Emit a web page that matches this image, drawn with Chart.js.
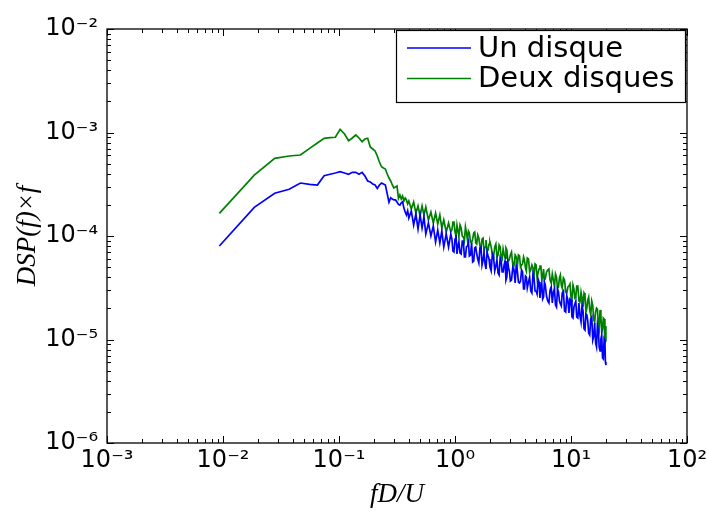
<!DOCTYPE html>
<html>
<head>
<meta charset="utf-8">
<script src="https://cdn.jsdelivr.net/npm/chart.js@4.4.1/dist/chart.umd.min.js"></script>
<style>
html,body{margin:0;padding:0;background:#fff;}
#wrap{width:707px;height:512px;}
</style>
</head>
<body>
<div id="wrap"><canvas id="c" width="707" height="512"></canvas></div>
<script>
// ---- data ----
const seriesNames = ['Un disque', 'Deux disques'];
const freq = [
 0.0093,0.0186,0.0279,0.0372,0.0465,0.0558,0.0651,0.0744,0.0837,0.093,
 0.1023,0.1116,0.1209,0.1302,0.1395,0.1488,0.1581,0.1674,0.1767,0.186,
 0.1953,0.2046,0.2139,0.2232,0.2325,0.2418,0.2511,0.2604,0.2697,0.279,
 0.2883,0.2976,0.3069,0.3162,0.3255,0.3348,0.3441,0.3534,0.3627,0.372,
 0.3813,0.3906,
 0.40,0.42,0.44,0.46,0.48,0.50,0.52,0.54,0.56,0.59,0.62,0.65,0.68,0.71,0.74,0.77,0.80,0.84,0.88,
 0.92,0.94,0.96,0.98,1.0,1.02,1.04,1.06,1.08,1.105,
 1.13,1.155,1.18,1.205,1.23,1.255,1.28,1.305,1.33,1.36,
 1.39,1.42,1.45,1.48,1.51,1.54,1.57,1.605,1.64,1.675,
 1.71,1.745,1.78,1.815,1.85,1.89,1.93,1.965,2.0,2.05,
 2.1,2.15,2.2,2.25,2.3,2.35,2.4,2.45,2.5,2.55,
 2.6,2.65,2.7,2.75,2.8,2.85,2.9,2.95,3.0,3.07,
 3.15,3.22,3.3,3.37,3.45,3.52,3.6,3.67,3.75,3.82,
 3.9,3.97,4.05,4.12,4.2,4.3,4.4,4.5,4.6,4.7,
 4.8,4.9,5.0,5.1,5.2,5.3,5.4,5.5,5.6,5.7,
 5.8,5.9,6.0,6.15,6.3,6.45,6.6,6.75,6.9,7.05,
 7.2,7.35,7.5,7.65,7.8,7.95,8.1,8.25,8.4,8.6,
 8.8,9.0,9.2,9.4,9.6,9.8,10,10.2,10.4,10.6,
 10.8,11.0,11.2,11.45,11.7,11.95,12.2,12.45,12.7,12.95,
 13.2,13.45,13.7,13.95,14.2,14.5,14.8,15.1,15.4,15.7,
 16.0,16.3,16.6,16.9,17.2,17.5,17.8,18.1,18.4,18.7,
 19.0,19.3,19.6,19.8,20.0
];
const unDisque = [
 8.0e-5,1.89e-4,2.59e-4,2.83e-4,3.25e-4,3.15e-4,3.11e-4,3.83e-4,3.95e-4,4.06e-4,
 4.18e-4,4.06e-4,3.95e-4,4.12e-4,4.12e-4,3.95e-4,4.12e-4,3.80e-4,3.40e-4,3.33e-4,
 3.18e-4,3.11e-4,2.88e-4,3.11e-4,3.25e-4,3.18e-4,3.11e-4,2.55e-4,2.12e-4,2.34e-4,
 2.28e-4,2.23e-4,2.23e-4,2.13e-4,2.02e-4,1.99e-4,2.09e-4,2.14e-4,1.86e-4,1.71e-4,
 1.60e-4,1.75e-4,
 1.493e-4,1.744e-4,1.277e-4,1.631e-4,1.169e-4,1.596e-4,1.195e-4,1.527e-4,1.045e-4,1.335e-4,9.995e-5,1.249e-4,8.750e-5,1.143e-4,8.557e-5,1.118e-4,7.829e-5,1.045e-4,7.829e-5,
 1.045e-4,9.350e-5,7.162e-5,7.004e-5,9.350e-5,1.022e-4,6.700e-5,8.005e-5,8.750e-5,6.850e-5,
 6.700e-5,8.947e-5,8.947e-5,6.268e-5,6.268e-5,7.829e-5,8.005e-5,8.750e-5,6.409e-5,6.553e-5,
 8.557e-5,5.609e-5,5.735e-5,7.657e-5,7.829e-5,6.700e-5,5.995e-5,5.485e-5,7.657e-5,7.829e-5,
 5.246e-5,5.864e-5,6.850e-5,5.365e-5,4.800e-5,7.004e-5,6.409e-5,5.995e-5,5.018e-5,4.591e-5,
 6.700e-5,6.268e-5,4.591e-5,5.131e-5,5.864e-5,4.391e-5,4.200e-5,6.130e-5,5.735e-5,4.490e-5,
 4.490e-5,5.246e-5,5.735e-5,3.758e-5,4.017e-5,5.609e-5,4.908e-5,4.490e-5,3.675e-5,3.758e-5,
 5.018e-5,4.800e-5,3.515e-5,5.131e-5,4.591e-5,3.594e-5,3.515e-5,3.675e-5,4.694e-5,4.490e-5,
 3.076e-5,3.076e-5,4.108e-5,4.017e-5,3.145e-5,3.594e-5,4.017e-5,2.942e-5,2.814e-5,4.294e-5,
 3.929e-5,2.942e-5,2.942e-5,2.752e-5,3.843e-5,3.594e-5,2.518e-5,3.216e-5,3.438e-5,2.462e-5,
 2.574e-5,3.594e-5,3.362e-5,2.632e-5,2.355e-5,2.253e-5,3.008e-5,3.216e-5,2.253e-5,2.877e-5,
 3.076e-5,2.154e-5,2.061e-5,3.076e-5,2.877e-5,2.355e-5,2.203e-5,2.107e-5,2.814e-5,2.942e-5,
 1.885e-5,1.844e-5,2.632e-5,2.408e-5,1.803e-5,2.462e-5,2.408e-5,1.650e-5,1.613e-5,2.061e-5,
 2.203e-5,2.355e-5,1.650e-5,1.613e-5,2.253e-5,1.687e-5,1.476e-5,2.154e-5,1.885e-5,1.263e-5,
 1.235e-5,1.764e-5,1.725e-5,1.509e-5,1.155e-5,1.105e-5,1.578e-5,1.650e-5,9.89e-6,1.081e-5,
 1.443e-5,9.25e-6,8.46e-6,1.381e-5,1.235e-5,8.46e-6,7.74e-6,1.011e-5,1.105e-5,6.63e-6,
 6.48e-6,1.011e-5,9.67e-6,6.06e-6,5.67e-6
];
const deuxDisques = [
 1.656e-4,3.88e-4,5.63e-4,5.93e-4,6.06e-4,7.03e-4,7.92e-4,8.79e-4,8.91e-4,8.99e-4,
 1.074e-3,9.68e-4,8.33e-4,8.85e-4,9.46e-4,8.85e-4,8.15e-4,8.65e-4,8.79e-4,7.24e-4,
 6.93e-4,6.63e-4,5.93e-4,5.19e-4,4.67e-4,4.54e-4,4.44e-4,3.97e-4,3.63e-4,3.40e-4,
 3.11e-4,2.91e-4,2.98e-4,3.04e-4,2.31e-4,2.49e-4,2.28e-4,2.43e-4,2.18e-4,2.33e-4,
 2.23e-4,2.04e-4,
 2.178e-4,1.823e-4,2.130e-4,1.668e-4,1.949e-4,1.561e-4,1.949e-4,1.596e-4,1.906e-4,1.427e-4,1.705e-4,1.335e-4,1.668e-4,1.306e-4,1.596e-4,1.195e-4,1.427e-4,1.093e-4,1.335e-4,
 1.093e-4,1.143e-4,1.365e-4,1.365e-4,1.093e-4,9.995e-5,1.277e-4,1.118e-4,9.775e-5,1.277e-4,
 1.195e-4,9.995e-5,9.775e-5,8.947e-5,1.222e-4,1.069e-4,9.148e-5,1.118e-4,1.069e-4,8.750e-5,
 8.557e-5,9.350e-5,1.069e-4,1.093e-4,8.557e-5,8.369e-5,1.022e-4,9.560e-5,8.005e-5,7.488e-5,
 9.350e-5,9.560e-5,7.162e-5,7.829e-5,9.148e-5,7.162e-5,7.323e-5,8.369e-5,8.750e-5,7.829e-5,
 6.700e-5,6.268e-5,7.829e-5,8.369e-5,6.268e-5,6.553e-5,8.185e-5,7.829e-5,6.268e-5,5.995e-5,
 7.488e-5,6.700e-5,6.130e-5,7.657e-5,7.323e-5,5.864e-5,5.735e-5,5.995e-5,6.553e-5,7.004e-5,
 5.246e-5,5.131e-5,6.553e-5,6.268e-5,5.131e-5,6.553e-5,6.409e-5,5.018e-5,5.246e-5,5.365e-5,
 6.268e-5,5.864e-5,4.908e-5,4.591e-5,6.130e-5,5.995e-5,4.490e-5,4.694e-5,5.246e-5,4.908e-5,
 4.200e-5,5.365e-5,5.246e-5,3.929e-5,4.391e-5,4.800e-5,5.131e-5,5.131e-5,3.758e-5,4.017e-5,
 4.800e-5,3.758e-5,3.843e-5,4.490e-5,4.694e-5,4.800e-5,3.758e-5,3.515e-5,4.294e-5,3.758e-5,
 3.216e-5,4.294e-5,4.017e-5,3.145e-5,3.216e-5,3.929e-5,4.200e-5,3.362e-5,3.145e-5,3.929e-5,
 3.758e-5,2.877e-5,2.814e-5,3.216e-5,3.288e-5,3.438e-5,2.574e-5,2.462e-5,3.362e-5,3.076e-5,
 2.518e-5,2.574e-5,3.288e-5,3.288e-5,2.355e-5,2.303e-5,2.877e-5,2.518e-5,2.061e-5,2.814e-5,
 2.692e-5,1.844e-5,2.015e-5,2.408e-5,2.574e-5,1.928e-5,1.725e-5,2.355e-5,2.154e-5,1.543e-5,
 1.476e-5,1.844e-5,2.015e-5,1.971e-5,1.412e-5,1.263e-5,1.928e-5,1.687e-5,1.181e-5,1.263e-5,
 1.613e-5,1.578e-5,9.25e-6,9.67e-6,1.350e-5
];
const seriesColors = ['#0000ff', '#008000'];
const xTickValues = [1e-3, 1e-2, 1e-1, 1e0, 1e1, 1e2];
const xTickLabels = ['10⁻³', '10⁻²', '10⁻¹', '10⁰', '10¹', '10²'];
const yTickValues = [1e-6, 1e-5, 1e-4, 1e-3, 1e-2];
const yTickLabels = ['10⁻⁶', '10⁻⁵', '10⁻⁴', '10⁻³', '10⁻²'];
const xTitle = 'fD/U';
const yTitle = 'DSP(f)×f';

// ---- chart ----
const pts = (ys) => freq.map((f, i) => ({x: f, y: ys[i]}));

const frameTicks = {
  id: 'frameTicks',
  afterDraw(chart) {
    const {ctx, chartArea: a, scales} = chart;
    const xs = scales.x, ys = scales.y;
    ctx.save();
    ctx.strokeStyle = '#000';
    ctx.lineWidth = 1;
    ctx.beginPath();
    const e0x = Math.round(Math.log10(xs.min)), e1x = Math.round(Math.log10(xs.max));
    for (let e = e0x; e <= e1x; e++) {
      for (let m = 1; m <= 9; m++) {
        const v = m * Math.pow(10, e);
        if (v > xs.max * 1.0001) break;
        const p = Math.round(xs.getPixelForValue(v)) + 0.5;
        const len = m === 1 ? 7 : 4;
        ctx.moveTo(p, a.bottom); ctx.lineTo(p, a.bottom - len);
        ctx.moveTo(p, a.top); ctx.lineTo(p, a.top + len);
      }
    }
    const e0y = Math.round(Math.log10(ys.min)), e1y = Math.round(Math.log10(ys.max));
    for (let e = e0y; e <= e1y; e++) {
      for (let m = 1; m <= 9; m++) {
        const v = m * Math.pow(10, e);
        if (v > ys.max * 1.0001) break;
        const p = Math.round(ys.getPixelForValue(v)) + 0.5;
        const len = m === 1 ? 7 : 4;
        ctx.moveTo(a.left, p); ctx.lineTo(a.left + len, p);
        ctx.moveTo(a.right, p); ctx.lineTo(a.right - len, p);
      }
    }
    ctx.stroke();
    ctx.lineWidth = 1.3;
    ctx.strokeRect(a.left, a.top, a.right - a.left, a.bottom - a.top);

    // legend box (upper right, inside the axes)
    const bx = a.right - 291, by = a.top + 1, bw = 289, bh = 72;
    ctx.fillStyle = '#fff';
    ctx.fillRect(bx, by, bw, bh);
    ctx.lineWidth = 1.2;
    ctx.strokeStyle = '#000';
    ctx.strokeRect(bx + 0.5, by + 0.5, bw, bh);
    ctx.font = '29px "DejaVu Sans"';
    ctx.textBaseline = 'middle';
    ctx.textAlign = 'left';
    chart.data.datasets.forEach((ds, i) => {
      const cy = by + 18 + i * 30.5;
      ctx.strokeStyle = ds.borderColor;
      ctx.lineWidth = 1.5;
      ctx.beginPath();
      ctx.moveTo(bx + 11, cy); ctx.lineTo(bx + 75, cy);
      ctx.stroke();
      ctx.fillStyle = '#000';
      ctx.fillText(ds.label, bx + 82, cy + 1);
    });
    ctx.restore();
  }
};

new Chart(document.getElementById('c'), {
  type: 'scatter',
  data: {
    datasets: [
      {label: seriesNames[0], data: pts(unDisque), borderColor: seriesColors[0], backgroundColor: seriesColors[0], showLine: true, pointRadius: 0, borderWidth: 1.7, tension: 0},
      {label: seriesNames[1], data: pts(deuxDisques), borderColor: seriesColors[1], backgroundColor: seriesColors[1], showLine: true, pointRadius: 0, borderWidth: 1.7, tension: 0}
    ]
  },
  options: {
    responsive: false,
    animation: false,
    layout: {padding: {left: 0, right: 20, top: 29, bottom: 0}},
    plugins: {legend: {display: false}, tooltip: {enabled: false}},
    scales: {
      x: {
        type: 'logarithmic', min: 1e-3, max: 1e2, position: 'bottom',
        afterBuildTicks: (s) => { s.ticks = xTickValues.map(v => ({value: v})); },
        afterFit: (s) => { s.height = 69; s.paddingLeft = 0; s.paddingRight = 0; },
        grid: {display: false, drawTicks: false},
        border: {display: false},
        ticks: {
          autoSkip: false, maxRotation: 0, padding: 3, color: '#000',
          font: {family: 'DejaVu Sans', size: 24},
          callback: (v, i) => xTickLabels[i]
        },
        title: {display: true, text: xTitle, color: '#000', font: {family: 'Liberation Serif', size: 27, style: 'italic'}, padding: {top: 0, bottom: 1}}
      },
      y: {
        type: 'logarithmic', min: 1e-6, max: 1e-2, position: 'left',
        afterBuildTicks: (s) => { s.ticks = yTickValues.map(v => ({value: v})); },
        afterFit: (s) => { s.width = 107; s.paddingTop = 0; s.paddingBottom = 0; },
        grid: {display: false, drawTicks: false},
        border: {display: false},
        ticks: {
          autoSkip: false, padding: 9, color: '#000',
          font: {family: 'DejaVu Sans', size: 24},
          callback: (v, i) => yTickLabels[i]
        },
        title: {display: true, text: yTitle, color: '#000', font: {family: 'Liberation Serif', size: 27, style: 'italic'}, padding: {top: 12, bottom: 0}}
      }
    }
  },
  plugins: [frameTicks]
});
</script>
</body>
</html>
